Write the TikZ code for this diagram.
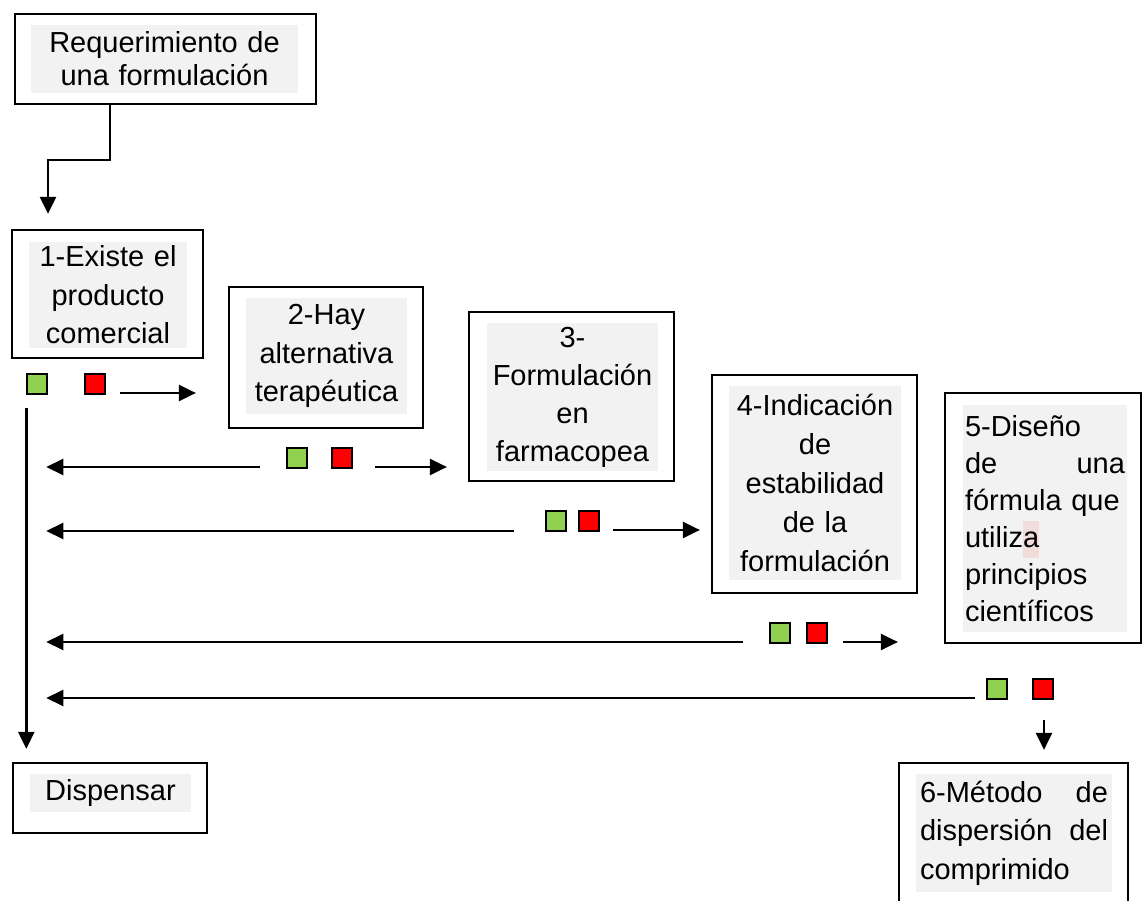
\documentclass[tikz,border=0pt]{standalone}
\usepackage{fontspec}
\setmainfont{Liberation Sans}
\usetikzlibrary{arrows.meta}
\definecolor{fondo}{RGB}{242,242,242}
\definecolor{verde}{RGB}{146,208,80}
\definecolor{rojo}{RGB}{255,0,0}
\definecolor{resalte}{RGB}{242,220,219}
\tikzset{
  caja/.style={draw, line width=1.3pt, inner sep=0pt},
  texto/.style={fill=fondo, inner sep=0pt, align=center, font=\fontsize{16.5}{21.9}\selectfont},
  cuadsi/.style={draw, fill=verde, minimum size=0.4cm, inner sep=0pt, line width=0.8pt},
  cuadno/.style={draw, fill=rojo, minimum size=0.4cm, inner sep=0pt, line width=0.8pt},
  flecha/.style={line width=1.4pt, -{Triangle[length=0.34cm,width=0.32cm]}}
}
\begin{document}
\begin{tikzpicture}[x=0.02cm, y=-0.02cm]
    \useasboundingbox (0,0) rectangle (1142,901);
    % cajas
    \node[caja, minimum width=6.02cm, minimum height=1.8cm] (req) at (165.5,59) {};
    \node[texto, text width=5.34cm, minimum height=1.36cm, font=\fontsize{16.5}{18.8}\selectfont] (reqt) at (164.5,59) {Requerimiento de\\una formulación};
    \node[caja, minimum width=3.82cm, minimum height=2.56cm] (prod) at (107.5,294) {};
    \node[texto, text width=3.16cm, minimum height=2.12cm] (prodt) at (108,295) {1-Existe el\\producto\\comercial};
    \node[caja, minimum width=3.88cm, minimum height=2.82cm] (alt) at (326,357.5) {};
    \node[texto, text width=3.22cm, minimum height=2.32cm] (altt) at (326.5,356) {2-Hay\\alternativa\\terapéutica};
    \node[caja, minimum width=4.1cm, minimum height=3.38cm] (farm) at (571.5,396.5) {};
    \node[texto, text width=3.42cm, minimum height=2.96cm, font=\fontsize{16.5}{21.6}\selectfont] (farmt) at (572.5,397) {3-\\Formulación\\en\\farmacopea};
    \node[caja, minimum width=4.1cm, minimum height=4.36cm] (estab) at (814.5,484) {};
    \node[texto, text width=3.44cm, minimum height=3.88cm, font=\fontsize{16.5}{22.2}\selectfont] (estabt) at (815,483) {4-Indicación\\de\\estabilidad\\de la\\formulación};
    \node[caja, minimum width=3.92cm, minimum height=5cm] (dis) at (1043,518) {};
    \node[texto, align=left, text width=3.2cm, inner xsep=0.04cm, minimum height=4.54cm, font=\fontsize{16.5}{21}\selectfont] (dist) at (1045,518.5) {5-Diseño\\de\hfill una\\fórmula que\\utiliz{\setlength{\fboxsep}{0pt}\colorbox{resalte}{\strut a}}\\principios\\científicos};
    \node[caja, minimum width=4.58cm, minimum height=2.84cm] (met) at (1013.5,834) {};
    \node[texto, align=left, text width=3.76cm, inner xsep=0.08cm, minimum height=2.36cm] (mett) at (1014,833) {6-Método\hfill de\\dispersión\hfill del\\comprimido};
    \node[caja, minimum width=3.88cm, minimum height=1.4cm] (disp) at (110,798) {};
    \node[texto, text width=3.22cm, minimum height=0.76cm] (dispt) at (110.5,793) {Dispensar};
    % cuadros si / no
    \foreach \i/\xs/\xn/\y in {1/37/95/384, 2/297/342/458, 3/556/589/521, 4/780/817/633, 5/997/1043/689}{
        \node[cuadsi] (si\i) at (\xs,\y) {};
        \node[cuadno] (no\i) at (\xn,\y) {};
    }
    % flechas
    \coordinate (codo) at (48,160);
    \draw[flecha, shorten >=0.3cm] ([xshift=-1.11cm]req.south) |- (codo) -- (codo |- prod.north);
    \coordinate (baja) at ([yshift=-0.26cm]si1.south west);
    \draw[flecha, shorten >=0.26cm] (baja) -- (baja |- disp.north);
    \foreach \i/\xa/\y in {2/260/467, 3/514/531, 4/743/642, 5/975/698}{
        \coordinate (vuelta\i) at (\xa,\y);
        \draw[flecha, shorten >=0.4cm] (vuelta\i) -- (baja |- vuelta\i);
    }
    \coordinate (sig1) at (120,393);
    \coordinate (sig2) at (375,467);
    \coordinate (sig3) at (613,530);
    \coordinate (sig4) at (843,642);
    \coordinate (sig5) at (1044,720);
    \draw[flecha, shorten >=0.64cm] (sig1) -- (alt.west |- sig1);
    \draw[flecha, shorten >=0.42cm] (sig2) -- (farm.west |- sig2);
    \draw[flecha, shorten >=0.22cm] (sig3) -- (estab.west |- sig3);
    \draw[flecha, shorten >=0.92cm] (sig4) -- (dis.west |- sig4);
    \draw[flecha, shorten >=0.24cm] (sig5) -- (sig5 |- met.north);
\end{tikzpicture}
\end{document}
